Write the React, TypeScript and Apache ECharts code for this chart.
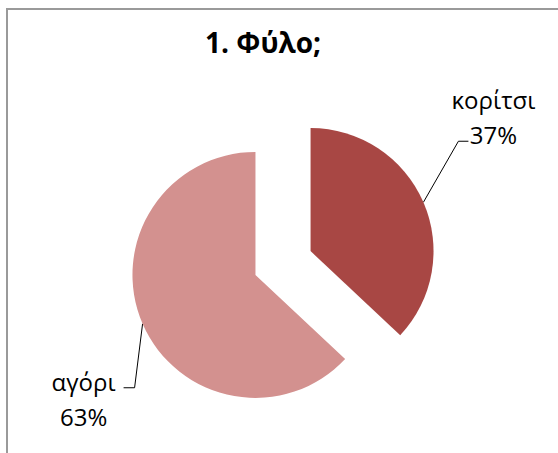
import React, { useEffect, useRef } from "react";
import * as echarts from "echarts";

const titleText = "1. Φύλο;";
const categories = ["κορίτσι", "αγόρι"];
const values = [37, 63];
const colors = ["#A84744", "#D3918F"];

export default function App() {
  const ref = useRef<HTMLDivElement>(null);
  useEffect(() => {
    if (!ref.current) return;
    const chart = echarts.init(ref.current, undefined, { renderer: "svg" });
    const font = "'Open Sans', 'Noto Sans', sans-serif";
    const cx = 283;
    const cy = 263;
    const explode = 30;
    const total = values.reduce((a, b) => a + b, 0);

    // label line geometry relative to the slice's arc midpoint
    const labelGeom = [
      { d1: [35, -61], d2: [10, 0], lab: [25, -24] },
      { d1: [-8, 64], d2: [-11, 0], lab: [-40, 11] },
    ];

    let acc = 0;
    const series = values.map((v, i) => {
      const mid = ((acc + v / 2) / total) * Math.PI * 2;
      acc += v;
      const center = [cx + explode * Math.sin(mid), cy - explode * Math.cos(mid)];
      return {
        type: "pie",
        center,
        radius: 123,
        startAngle: 90,
        emphasis: { disabled: true },
        silent: true,
        label: {
          show: true,
          position: "outside",
          formatter: "{b}\n{d}%",
          fontFamily: font,
          fontSize: 24,
          lineHeight: 35,
          color: "#000",
          align: "center",
          overflow: "none",
          width: 200,
        },
        labelLine: { show: true, lineStyle: { color: "#000", width: 1 } },
        labelLayout: (params: any) => {
          const pts = params.labelLinePoints;
          if (!pts || params.dataIndex !== i) return {};
          const g = labelGeom[i];
          const p0 = pts[0];
          const p1 = [p0[0] + g.d1[0], p0[1] + g.d1[1]];
          const p2 = [p1[0] + g.d2[0], p1[1] + g.d2[1]];
          return {
            x: p2[0] + g.lab[0],
            y: p2[1] + g.lab[1],
            align: "center",
            verticalAlign: "middle",
            labelLinePoints: [p0, p1, p2],
          };
        },
        data: categories.map((name, j) =>
          j === i
            ? { name, value: values[j], itemStyle: { color: colors[j] } }
            : {
                name,
                value: values[j],
                itemStyle: { color: "rgba(0,0,0,0)" },
                label: { show: false },
                labelLine: { show: false },
              }
        ),
      };
    });

    chart.setOption({
      animation: false,
      backgroundColor: "#ffffff",
      title: {
        text: titleText,
        left: 258,
        top: 23,
        textAlign: "center",
        textStyle: { fontFamily: font, fontSize: 28, fontWeight: "bold", color: "#000" },
      },
      graphic: [
        {
          type: "rect",
          shape: { x: 7, y: 9, width: 700, height: 600 },
          style: { fill: "none", stroke: "#9a9a9a", lineWidth: 2 },
          silent: true,
          z: -1,
        },
      ],
      series,
    });
    return () => chart.dispose();
  }, []);
  return (
    <div
      ref={ref}
      style={{ position: "fixed", left: 0, top: 0, width: 558, height: 453 }}
    />
  );
}
